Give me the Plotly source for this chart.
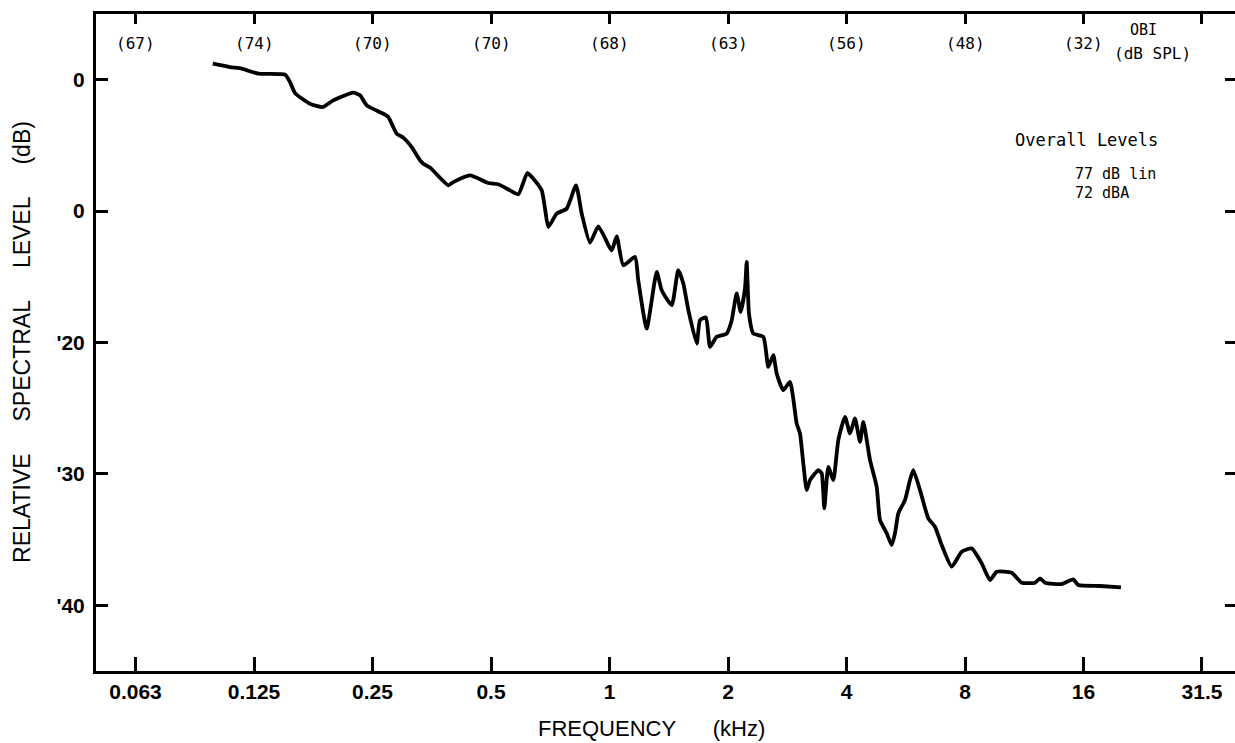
import math
import plotly.graph_objects as go

# Relative spectral level vs. frequency (kHz, log scale)
freq_khz = [
    0.0982, 0.1086, 0.1163, 0.1282, 0.1499, 0.1543, 0.1589, 0.1734, 0.1868, 0.1988,
    0.2234, 0.2324, 0.2417, 0.2663, 0.2742, 0.288, 0.2993, 0.3144, 0.3301, 0.3365,
    0.350, 0.3895, 0.401, 0.4422, 0.4922, 0.5218, 0.5588, 0.5866, 0.6183, 0.6404,
    0.6726, 0.6857, 0.6991, 0.7343, 0.7786, 0.8221, 0.850, 0.8923, 0.9366, 1.013,
    1.043, 1.084, 1.161, 1.183, 1.243, 1.318, 1.357, 1.439, 1.495, 1.540,
    1.586, 1.666, 1.698, 1.758, 1.800, 1.872, 1.985, 2.044, 2.104, 2.154,
    2.209, 2.231, 2.261, 2.319, 2.459, 2.532, 2.607, 2.659, 2.764, 2.874,
    2.989, 3.047, 3.107, 3.169, 3.231, 3.392, 3.460, 3.513, 3.596, 3.703,
    3.813, 3.965, 4.083, 4.204, 4.329, 4.413, 4.590, 4.773, 4.866, 5.060,
    5.210, 5.312, 5.416, 5.632, 5.799, 5.912, 6.149, 6.454, 6.712, 6.981,
    7.402, 7.848, 8.319, 8.822, 9.260, 9.630, 10.51, 11.15, 12.05, 12.41,
    12.78, 14.08, 15.07, 15.52, 17.62, 19.92,
]
level_db = [
    1.22, 0.96, 0.84, 0.46, 0.38, -0.18, -1.02, -1.83, -2.08, -1.57,
    -0.99, -1.19, -1.95, -2.59, -2.84, -4.11, -4.41, -5.13, -6.14, -6.39,
    -6.69, -8.04, -7.79, -7.28, -7.86, -7.96, -8.42, -8.72, -7.10, -7.53,
    -8.42, -9.81, -11.21, -10.19, -9.81, -8.04, -10.19, -12.40, -11.16, -12.98,
    -11.92, -14.12, -13.49, -15.26, -18.94, -14.63, -16.02, -17.16, -14.50, -15.51,
    -17.54, -20.08, -18.30, -18.10, -20.33, -19.57, -19.32, -18.30, -16.27, -17.67,
    -15.89, -13.87, -17.79, -19.32, -19.57, -21.86, -20.97, -22.36, -23.63, -23.00,
    -26.16, -26.92, -29.20, -31.23, -30.47, -29.71, -29.96, -32.62, -29.46, -30.47,
    -27.43, -25.66, -26.92, -25.78, -27.56, -26.04, -28.95, -30.98, -33.51, -34.52,
    -35.41, -34.52, -33.00, -31.99, -30.47, -29.71, -31.23, -33.38, -34.02, -35.41,
    -37.06, -35.92, -35.67, -36.81, -38.08, -37.44, -37.52, -38.28, -38.28, -37.95,
    -38.28, -38.38, -38.02, -38.46, -38.53, -38.63,
]

# Octave-band axis
octave_ticks = [0.0625, 0.125, 0.25, 0.5, 1, 2, 4, 8, 16, 32]
octave_labels = ["0.063", "0.125", "0.25", "0.5", "1", "2", "4", "8", "16", "31.5"]
# Octave band levels shown along the top axis
obl_labels = ["(67)", "(74)", "(70)", "(70)", "(68)", "(63)", "(56)", "(48)", "(32)"]

level_ticks = [0, -10, -20, -30, -40]
level_labels = ["0", "0", "'20", "'30", "'40"]

x_range = [-1.3045, 1.589]
y_range = [-45, 5]

SANS = "Liberation Sans, Arial, sans-serif"
MONO = "DejaVu Sans Mono, monospace"

fig = go.Figure()
fig.add_trace(go.Scatter(
    x=freq_khz, y=level_db, mode="lines",
    line=dict(color="black", width=3.8, shape="spline", smoothing=0.5),
    hoverinfo="skip", showlegend=False,
))
# empty traces to bind the mirrored top and right axes
fig.add_trace(go.Scatter(x=[], y=[], xaxis="x2", yaxis="y", showlegend=False))
fig.add_trace(go.Scatter(x=[], y=[], xaxis="x", yaxis="y2", showlegend=False))

fig.update_layout(
    width=1235, height=743,
    margin=dict(l=96, r=0, t=14, b=72),
    paper_bgcolor="white", plot_bgcolor="white",
    showlegend=False,
    xaxis=dict(
        type="log", range=x_range,
        tickvals=octave_ticks, ticktext=octave_labels,
        ticks="inside", ticklen=14, tickwidth=2.5, tickcolor="black",
        showline=True, linewidth=3, linecolor="black",
        showgrid=False, zeroline=False,
        tickfont=dict(family=SANS, size=21, color="black", weight="bold"),
        ticklabelstandoff=0,
    ),
    xaxis2=dict(
        type="log", range=x_range, overlaying="x", side="top", anchor="y",
        tickvals=octave_ticks, showticklabels=False,
        ticks="inside", ticklen=10, tickwidth=2.5, tickcolor="black",
        showline=True, linewidth=3, linecolor="black",
        showgrid=False, zeroline=False,
    ),
    yaxis=dict(
        range=y_range,
        tickvals=level_ticks, ticktext=level_labels,
        ticks="inside", ticklen=12, tickwidth=3, tickcolor="black",
        showline=True, linewidth=3, linecolor="black",
        showgrid=False, zeroline=False,
        tickfont=dict(family=SANS, size=21, color="black", weight="bold"),
        ticklabelstandoff=4,
    ),
    yaxis2=dict(
        range=y_range, overlaying="y", side="right", anchor="x",
        tickvals=level_ticks, showticklabels=False,
        ticks="inside", ticklen=10, tickwidth=3, tickcolor="black",
        showline=False, showgrid=False, zeroline=False,
    ),
)

annotations = []
for f, lab in zip(octave_ticks, obl_labels):
    annotations.append(dict(
        x=math.log10(f), y=2.75, xref="x", yref="y", text=lab,
        yanchor="middle", showarrow=False,
        font=dict(family=MONO, size=16, color="black"),
    ))


def note(x, y, text, size, family=MONO, **kw):
    d = dict(x=x, y=y, xref="paper", yref="paper", text=text,
             xanchor=kw.pop("xanchor", "center"), yanchor="middle",
             showarrow=False, font=dict(family=family, size=size, color="black"))
    d.update(kw)
    return d


annotations += [
    note(0.9201, 0.9756, "OBI", 15),
    note(0.928, 0.9406, "(dB SPL)", 16),
    note(0.870, 0.8082, "Overall Levels", 17),
    note(0.8578, 0.7565, "77 dB lin", 15, xanchor="left"),
    note(0.8578, 0.7275, "72 dBA", 15, xanchor="left"),
    note(0.4873, -0.0868, "FREQUENCY" + "\u00a0" * 6 + "(kHz)", 22, family=SANS),
    note(-0.065, 0.5008,
         ("\u00a0" * 5).join(["RELATIVE", "SPECTRAL", "LEVEL", "(dB)"]),
         23, family=SANS, textangle=-90),
]
fig.update_layout(annotations=annotations)

fig.write_html("out.html")
